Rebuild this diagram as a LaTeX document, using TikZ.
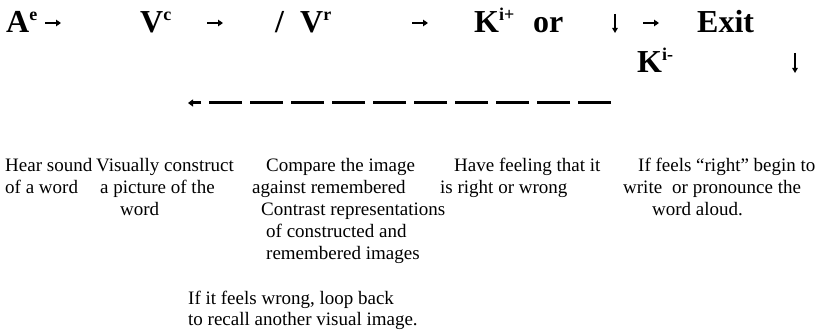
\documentclass[tikz,border=0pt]{standalone}
\usepackage{fontspec}
\setmainfont{Liberation Serif}
\usetikzlibrary{arrows.meta,positioning}

\newcommand{\up}[1]{\raisebox{12pt}{\fontsize{18}{18}\selectfont #1}}

\begin{document}
\begin{tikzpicture}[x=1pt,y=-1pt,
    term/.style={anchor=base west,inner sep=0pt,
      font=\fontsize{32}{36}\selectfont\bfseries},
    note/.style={anchor=base west,inner sep=0pt,
      font=\fontsize{19}{21}\selectfont},
    flow/.style={line width=1.6pt,-{Triangle[length=5pt,width=6.5pt]}},
    drop/.style={line width=1.2pt,-{Triangle[length=5pt,width=5.5pt]}},
    loopback/.style={line width=3pt,dash pattern=on 33pt off 8pt,
      -{Triangle[length=5pt,width=7pt]}}
  ]
    \useasboundingbox (0,0) rectangle (823,336);
    % strategy line
    \node[term] (ae) at (6,33) {A\up{e}};
    \node[term] (vc) at (140,33) {V\up{c}};
    \node[term] (slash) at (275,33) {/};
    \node[term] (vr) at (300,33) {V\up{r}};
    \node[term] (kplus) at (474,33) {K\up{i+}};
    \node[term] (orword) at (533,33) {or};
    \node[term] (exit) at (697,33) {Exit};
    \node[term] (kminus) at (637,73) {K\up{i-}};
    \coordinate (a1) at (45,23);  \coordinate (b1) at (61,23);
    \coordinate (a2) at (207,23); \coordinate (b2) at (223,23);
    \coordinate (a3) at (412,23); \coordinate (b3) at (428,23);
    \coordinate (a4) at (643,23); \coordinate (b4) at (659,23);
    \foreach \i in {1,...,4}
      \draw[flow] (a\i) -- (b\i);
    \coordinate (d1) at (615,14); \coordinate (e1) at (615,33);
    \coordinate (d2) at (795,53); \coordinate (e2) at (795,73);
    \draw[drop] (d1) -- (e1);
    \draw[drop] (d2) -- (e2);
    % loop back
    \coordinate (loopstart) at (611,103);
    \coordinate (loopend) at (188,103);
    \draw[loopback] (loopstart) -- (loopend);
    % notes
    \node[note] (hear) at (5,172) {Hear sound};
    \node[note] (hearb) at (5,194) {of a word};
    \node[note] (build) at (96,172) {Visually construct};
    \node[note] (buildb) at (100,194) {a picture of the};
    \node[note] (buildc) at (120,216) {word};
    \node[note] (match) at (266,172) {Compare the image};
    \node[note] (matchb) at (252,194) {against remembered};
    \node[note] (matchc) at (261,216) {Contrast representations};
    \node[note] (matchd) at (266,238) {of constructed and};
    \node[note] (matche) at (266,260) {remembered images};
    \node[note] (feel) at (454,172) {Have feeling that it};
    \node[note] (feelb) at (440,194) {is right or wrong};
    \node[note] (act) at (638,172) {If feels “right” begin to};
    \node[note] (actb) at (623,194) {write\hspace{10pt}or pronounce the};
    \node[note] (actc) at (652,216) {word aloud.};
    \node[note] (retry) at (188,305) {If it feels wrong, loop back};
    \node[note] (retryb) at (188,326) {to recall another visual image.};
  \end{tikzpicture}
\end{document}
